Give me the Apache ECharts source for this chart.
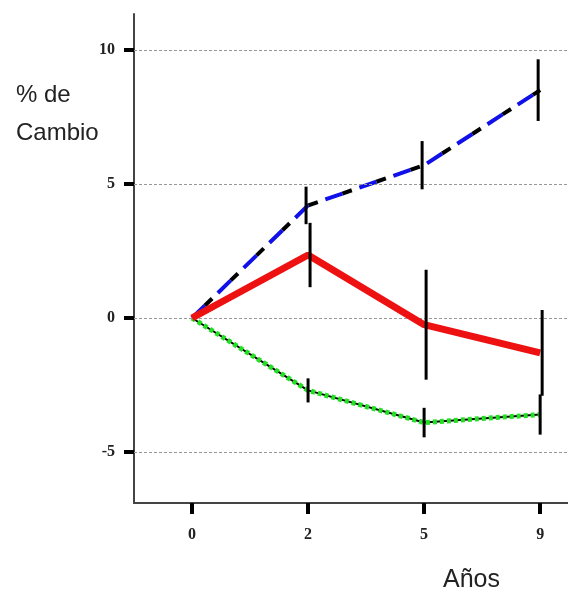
<!DOCTYPE html>
<html>
<head>
<meta charset="utf-8">
<script src="https://cdn.jsdelivr.net/npm/echarts@6/dist/echarts.min.js"></script>
<style>
  html, body { margin: 0; padding: 0; background: #fff; }
  #main { width: 568px; height: 589px; }
</style>
</head>
<body>
<div id="main"></div>
<script>
const years = ['0', '2', '5', '9']
const gridValues = [-5, 0, 5, 10]

const blue = [0, 4.2, 5.7, 8.5]
const blueErr = [0, 0.7, 0.9, 1.15]
const red = [0, 2.35, -0.25, -1.3]
const redErr = [0, 1.2, 2.05, 1.6]
const green = [0, -2.7, -3.9, -3.6]
const greenErr = [0, 0.45, 0.55, 0.75]

const chart = echarts.init(document.getElementById('main'))

// years are evenly spaced, so they sit on positions 0..3 of a value axis
const slots = years.map((y, i) => i)
const pairs = vals => vals.map((v, i) => [i, v])

const errBars = (vals, errs, shift) => ({
  type: 'custom',
  z: 10,
  silent: true,
  data: vals.map((v, i) => [i, v - errs[i], v + errs[i]]).filter((d, i) => errs[i] > 0),
  renderItem: (params, api) => {
    const lo = api.coord([api.value(0), api.value(1)])
    const hi = api.coord([api.value(0), api.value(2)])
    return {
      type: 'line',
      shape: { x1: lo[0] + shift, y1: lo[1], x2: hi[0] + shift, y2: hi[1] },
      style: { stroke: '#000', lineWidth: 3 }
    }
  }
})

const line = (data, color, width, dash, offset, z) => ({
  type: 'line',
  data: pairs(data),
  showSymbol: false,
  silent: true,
  z: z,
  lineStyle: { color: color, width: width, type: dash, dashOffset: offset, cap: 'butt' }
})

chart.setOption({
  animation: false,
  title: [{
    text: '% de\nCambio',
    left: 11, top: 71,
    textStyle: { fontFamily: 'Liberation Sans', fontSize: 24, fontWeight: 'normal', color: '#222', lineHeight: 38 }
  }, {
    text: 'Años',
    left: 438, top: 563,
    textStyle: { fontFamily: 'Liberation Sans', fontSize: 25, fontWeight: 'normal', color: '#222', lineHeight: 25 }
  }],
  grid: { left: 134, top: 14, right: 0, bottom: 86 },
  xAxis: {
    type: 'value',
    min: -0.5,
    max: 3.24,
    axisLine: { onZero: false, lineStyle: { color: '#444', width: 2 } },
    axisTick: { customValues: slots, length: 11, lineStyle: { color: '#000', width: 4 } },
    axisLabel: {
      customValues: slots,
      formatter: v => years[v],
      margin: 24,
      fontFamily: 'Liberation Serif', fontWeight: 'bold', fontSize: 16, color: '#222'
    },
    splitLine: { show: false }
  },
  yAxis: {
    type: 'value',
    min: -6.9,
    max: 11.34,
    axisLine: { show: true, onZero: false, lineStyle: { color: '#444', width: 2 } },
    axisTick: { show: true, customValues: gridValues, length: 10, lineStyle: { color: '#000', width: 4 } },
    axisLabel: { customValues: gridValues, margin: 19, fontFamily: 'Liberation Serif', fontWeight: 'bold', fontSize: 16, color: '#222' },
    splitLine: { show: false }
  },
  series: [
    Object.assign(line(blue, '#000', 4, [10, 26], -18, 3), {
      markLine: {
        silent: true,
        symbol: 'none',
        label: { show: false },
        lineStyle: { color: '#999', type: [3, 2], width: 1 },
        data: gridValues.map(v => ({ yAxis: v }))
      }
    }),
    line(blue, '#1010e8', 4, [18, 18], 0, 4),
    line(red, '#ee1111', 7, 'solid', 0, 5),
    line(green, '#000', 2, 'solid', 0, 3),
    line(green, '#22e022', 5, [4, 3], 0, 4),
    errBars(blue, blueErr, -2),
    errBars(red, redErr, 2),
    errBars(green, greenErr, 0)
  ]
})
</script>
</body>
</html>
